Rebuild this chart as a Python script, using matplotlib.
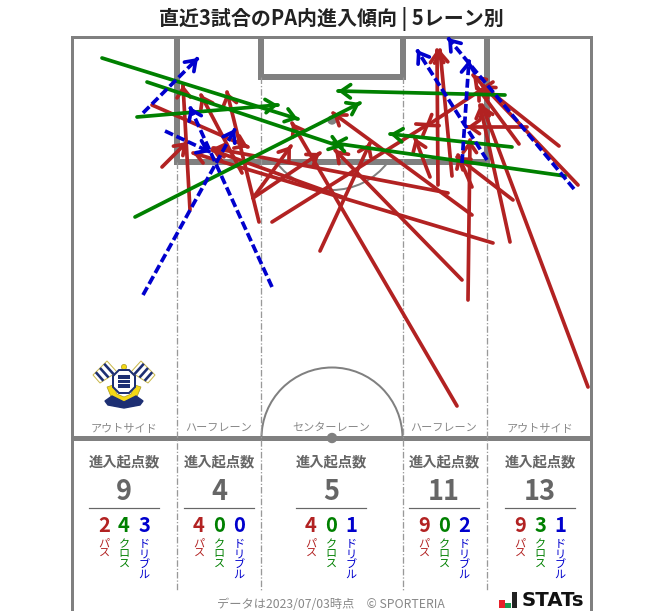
import numpy as np
import matplotlib
matplotlib.use('Agg')
import matplotlib.pyplot as plt
from matplotlib.patches import Arc, Circle, Polygon, Rectangle

plt.rcParams['font.family'] = ['Noto Sans CJK JP', 'DejaVu Sans']

# lanes
lane_names = ['アウトサイド', 'ハーフレーン', 'センターレーン', 'ハーフレーン', 'アウトサイド']
lane_centers = [124, 219, 331, 444, 540]
lane_totals = [9, 4, 5, 11, 13]
pass_counts = [2, 4, 4, 9, 9]
cross_counts = [4, 0, 0, 0, 3]
dribble_counts = [3, 0, 1, 2, 1]

# arrows: start x, start y, end x, end y (picture pixels)
pass_x0 = [162, 152, 190, 242, 259, 253, 253, 272, 320, 345, 457, 448, 472, 462, 430, 438, 452, 468, 472, 493, 588, 559, 527, 519, 578, 510, 513, 493]
pass_y0 = [167, 105, 210, 173, 222, 198, 198, 222, 251, 198, 406, 193, 215, 280, 177, 185, 176, 300, 187, 243, 387, 146, 127, 144, 185, 242, 200, 82]
pass_x1 = [187, 248, 183, 201, 227, 291, 320, 430, 370, 212, 292, 213, 333, 335, 415, 437, 440, 470, 458, 193, 482, 482, 467, 477, 473, 480, 457, 425]
pass_y1 = [142, 147, 85, 95, 92, 146, 153, 123, 143, 150, 123, 148, 113, 150, 138, 50, 50, 140, 155, 153, 105, 85, 127, 87, 75, 105, 157, 127]

cross_x0 = [102, 147, 137, 135, 505, 512, 565]
cross_y0 = [58, 82, 117, 217, 95, 147, 176]
cross_x1 = [298, 342, 278, 360, 338, 390, 333]
cross_y1 = [119, 147, 105, 103, 91, 134, 143]

drib_x0 = [143, 165, 272, 143, 487, 462, 574]
drib_y0 = [113, 131, 287, 295, 160, 163, 189]
drib_x1 = [198, 210, 190, 235, 417, 469, 448]
drib_y1 = [58, 152, 107, 129, 50, 60, 38]

RED = '#b22222'
GREEN = '#008000'
BLUE = '#0000cd'
GRAY = '#808080'
TXT = '#666666'
NAVY = '#1d2f73'

fig = plt.figure(figsize=(6.63, 6.11), dpi=100)
ax = fig.add_axes([0, 0, 1, 1])
ax.set_xlim(0, 663)
ax.set_ylim(611, 0)
ax.axis('off')


def px(n):
    return n * 72 / 100


# pitch
ax.plot([72, 72, 591, 591], [611, 37, 37, 611], color=GRAY, lw=px(3), solid_joinstyle='miter')
ax.plot([72, 591], [438, 438], color=GRAY, lw=px(5), solid_capstyle='butt')
ax.plot([177, 177, 487, 487], [37, 162, 162, 37], color=GRAY, lw=px(6), solid_joinstyle='miter', solid_capstyle='butt')
ax.plot([261, 261, 403, 403], [37, 77, 77, 37], color=GRAY, lw=px(6), solid_joinstyle='miter', solid_capstyle='butt')
ax.add_patch(Arc((332, 120), 140, 140, theta1=37, theta2=143, color=GRAY, lw=px(2)))
ax.add_patch(Arc((332, 438), 141, 141, theta1=180, theta2=360, color=GRAY, lw=px(2)))
ax.add_patch(Circle((332, 120), 4, color=GRAY))
ax.add_patch(Circle((332, 438), 4.5, color=GRAY))
for x, y_top in [(177, 162), (261, 77), (403, 77), (487, 162)]:
    ax.plot([x, x], [y_top, 590], color='#999999', lw=px(1.3), ls=(0, (5, 1.5, 1, 1.5)))


def draw_arrows(xs0, ys0, xs1, ys1, color, dashed=False):
    for x0, y0, x1, y1 in zip(xs0, ys0, xs1, ys1):
        ls = (0, (2.4, 1.0)) if dashed else '-'
        ax.plot([x0, x1], [y0, y1], color=color, lw=px(3.7), ls=ls, solid_capstyle='round', zorder=3)
        d = np.hypot(x1 - x0, y1 - y0)
        bx = x1 - (x1 - x0) / d
        by = y1 - (y1 - y0) / d
        ax.annotate('', xy=(x1, y1), xytext=(bx, by), zorder=3,
                    arrowprops=dict(arrowstyle='->,head_length=0.42,head_width=0.3', color=color,
                                    lw=px(3.7), mutation_scale=16, shrinkA=0, shrinkB=0))


draw_arrows(pass_x0, pass_y0, pass_x1, pass_y1, RED)
draw_arrows(cross_x0, cross_y0, cross_x1, cross_y1, GREEN)
draw_arrows(drib_x0, drib_y0, drib_x1, drib_y1, BLUE, dashed=True)

# title
ax.text(331, 19, '直近3試合のPA内進入傾向 | 5レーン別', ha='center', va='center', fontsize=14.4, fontweight='bold', color='#222222')

# lane stats
for i, cx in enumerate(lane_centers):
    ax.text(cx, 428, lane_names[i], ha='center', va='center', fontsize=8, color='#888888')
    ax.text(cx, 462, '進入起点数', ha='center', va='center', fontsize=10.3, fontweight='bold', color=TXT)
    ax.text(cx, 492, str(lane_totals[i]), ha='center', va='center', fontsize=19.5, fontweight='bold', color=TXT)
    ax.plot([cx - 35, cx + 35], [508, 508], color=TXT, lw=px(1.2))
    for off, val, label, col in [(-20, pass_counts[i], 'パス', RED),
                                 (0, cross_counts[i], 'クロス', GREEN),
                                 (20, dribble_counts[i], 'ドリブル', BLUE)]:
        ax.text(cx + off, 526, str(val), ha='center', va='center', fontsize=14.5, fontweight='bold', color=col)
        for k, ch in enumerate(label):
            ax.text(cx + off, 544 + k * 10.3, ch, ha='center', va='center', fontsize=8, color=col)

# club crest
for sign in (-1, 1):
    flag = np.array([(-31, 375), (-17, 361), (-7, 372), (-24, 383)], dtype=float)
    flag[:, 0] = 124 + sign * flag[:, 0]
    ax.add_patch(Polygon(flag, fc='white', ec='#c9b84a', lw=px(1)))
    for t in (0.2, 0.5, 0.8):
        a = flag[0] + (flag[1] - flag[0]) * t
        b = flag[3] + (flag[2] - flag[3]) * t
        ax.plot([a[0], b[0]], [a[1], b[1]], color=NAVY, lw=px(2.6), solid_capstyle='butt')
ax.add_patch(Polygon([(107, 387), (113, 385), (117, 394), (124, 397), (131, 394), (135, 385), (141, 387), (136, 399), (124, 404), (112, 399)],
                     fc='#f4d816', ec='#a89a20', lw=px(0.7)))
ax.add_patch(Polygon([(105, 401), (112, 396), (124, 402), (136, 396), (143, 401), (140, 405), (124, 408), (108, 405)], fc=NAVY, ec=NAVY))
ax.add_patch(Circle((124, 367), 2.6, fc='#f4d816', ec='#a89a20', lw=px(0.7)))
ax.add_patch(Polygon([(113, 376), (119, 370), (129, 370), (135, 376), (135, 387), (129, 393), (119, 393), (113, 387)],
                     fc='white', ec=NAVY, lw=px(2)))
ax.add_patch(Rectangle((118, 375), 12, 13, fc=NAVY, ec='none'))
for y in [379, 383]:
    ax.plot([118, 130], [y, y], color='white', lw=px(1))

# footer
ax.text(331, 604, 'データは2023/07/03時点\u3000© SPORTERIA', ha='center', va='center', fontsize=8.8, color='#888888')
ax.add_patch(Rectangle((499, 600), 6, 8, fc='#e8202a', ec='none'))
ax.add_patch(Rectangle((505, 603), 6, 5, fc='#1a9850', ec='none'))
ax.add_patch(Rectangle((512, 592), 4.5, 16, fc='#222222', ec='none'))
ax.text(522, 600.5, 'STATs', ha='left', va='center', fontsize=14.2, fontweight='bold', color='#111111', family='DejaVu Sans')

fig.savefig('out.png', dpi=100)
